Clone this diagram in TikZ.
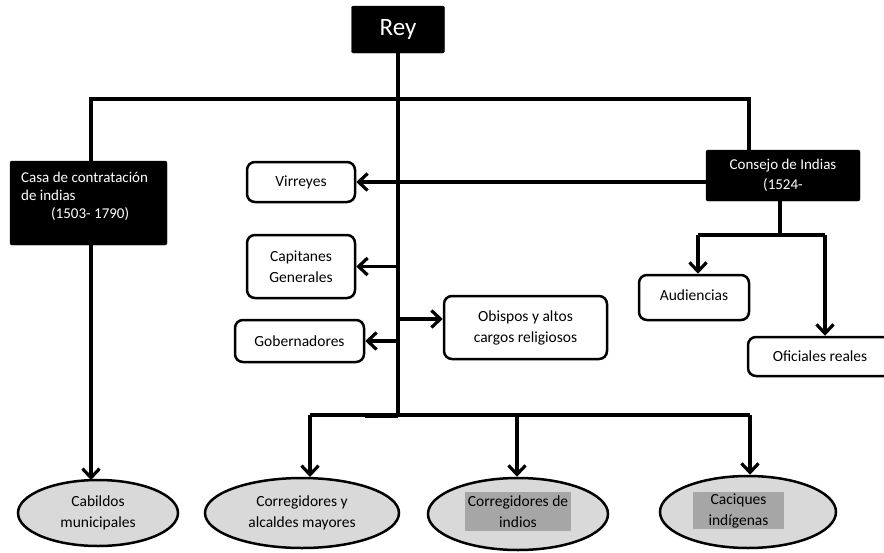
\documentclass[tikz,border=0pt]{standalone}
\usepackage{fontspec}
\setmainfont{Carlito}
\usetikzlibrary{arrows.meta,shapes.geometric}
\begin{document}
\begin{tikzpicture}[x=1pt,y=-1pt,
  wire/.style={line width=3.2pt},
  arr/.style={wire,-{Straight Barb[length=9pt,width=17pt,line width=3.2pt]}},
  darkbox/.style={draw=black,fill=black,rounded corners=2pt,text=white,font=\fontsize{15}{20}\selectfont,align=center,inner sep=0pt},
  whitebox/.style={draw=black,line width=2.5pt,rounded corners=8pt,fill=white,font=\fontsize{15.5}{21}\selectfont,align=center,inner sep=0pt},
  oval/.style={ellipse,draw=black,line width=2.5pt,fill=black!15,inner sep=0pt,font=\fontsize{15.5}{21}\selectfont,align=center},
  shade/.style={fill=black!35,font=\fontsize{15.5}{21}\selectfont,align=center,inner sep=0pt}]
\useasboundingbox (0,0) rectangle (884,552);

% top of the hierarchy
\node[darkbox,minimum width=93pt,minimum height=47pt,font=\fontsize{25}{28}\selectfont] (rey) at (398,29.5) {\raisebox{-2pt}{Rey}};

% councils
\node[darkbox,minimum width=157pt,minimum height=84pt] (casa) at (88.5,203) {};
\node[text=white,font=\fontsize{15}{18}\selectfont,align=left,anchor=north west,inner sep=0pt] (casatxt) at (21,172)
  {Casa de contratación\\de indias\\\hspace*{30pt}(1503- 1790)};
\node[darkbox,minimum width=154pt,minimum height=51pt] (consejo) at (783,175.5) {Consejo de Indias\\(1524-};

% royal officials
\node[whitebox,minimum width=108pt,minimum height=40pt] (virreyes) at (301,182) {Virreyes};
\node[whitebox,minimum width=108pt,minimum height=63pt] (capitanes) at (301,266.5) {Capitanes\\Generales};
\node[whitebox,minimum width=129pt,minimum height=42pt] (gobernadores) at (299.5,341) {Gobernadores};
\node[whitebox,minimum width=163pt,minimum height=63pt] (obispos) at (525.5,327.5) {Obispos y altos\\cargos religiosos};
\node[whitebox,minimum width=110pt,minimum height=45pt] (audiencias) at (694,297.5) {\raisebox{4pt}{Audiencias}};
\node[whitebox,minimum width=144pt,minimum height=39pt] (oficiales) at (820,356.5) {Oficiales reales};

% local authorities
\node[oval,minimum width=160pt,minimum height=66pt] (cabildos) at (98,513) {Cabildos\\municipales};
\node[oval,minimum width=194pt,minimum height=70pt] (alcaldes) at (302,513) {Corregidores y\\alcaldes mayores};
\node[oval,minimum width=180pt,minimum height=72pt] (corind) at (518,514) {};
\node[shade,minimum width=106pt,minimum height=39pt] (corindtxt) at (518,511.5) {Corregidores de\\indios};
\node[oval,minimum width=176pt,minimum height=72pt] (caciques) at (748,512) {};
\node[shade,minimum width=91pt,minimum height=37pt] (caciquestxt) at (738.5,510.5) {Caciques\\indígenas};

% junction points
\coordinate (spine) at (398,415);
\coordinate (barL) at (91,99);
\coordinate (barR) at (749,99);
\coordinate (lowL) at (310,415);
\coordinate (lowM) at (517,415);
\coordinate (lowR) at (750,415);
\coordinate (conL) at (698,235);
\coordinate (conR) at (825,235);
\coordinate (conM) at (780,235);

% connectors
\draw[wire] (rey.south) -- (spine);
\draw[wire] (casa.north -| barL) -- (barL) -- (barR) -- (consejo.north -| barR);
\draw[arr] (consejo.west |- virreyes.east) -- (virreyes.east);
\draw[arr] (spine |- capitanes.east) -- (capitanes.east);
\draw[arr] (spine |- gobernadores.east) -- (gobernadores.east);
\draw[arr] (398,319) -- ([yshift=8.5pt]obispos.west);
\draw[arr] (casa.south -| barL) -- (91,480);
\draw[wire] (lowL) -- (lowR);
\draw[line width=5pt] (365,415) -- (spine);
\draw[arr] (lowL) -- (lowL |- 0,477);
\draw[arr] (lowM) -- (lowM |- corind.north);
\draw[arr] (lowR) -- (lowR |- caciques.north);
\draw[wire] (consejo.south -| conM) -- (conM);
\draw[wire] (conL) -- (conR);
\draw[arr] (conL) -- (conL |- audiencias.north);
\draw[arr] (conR) -- (conR |- oficiales.north);
\end{tikzpicture}
\end{document}
